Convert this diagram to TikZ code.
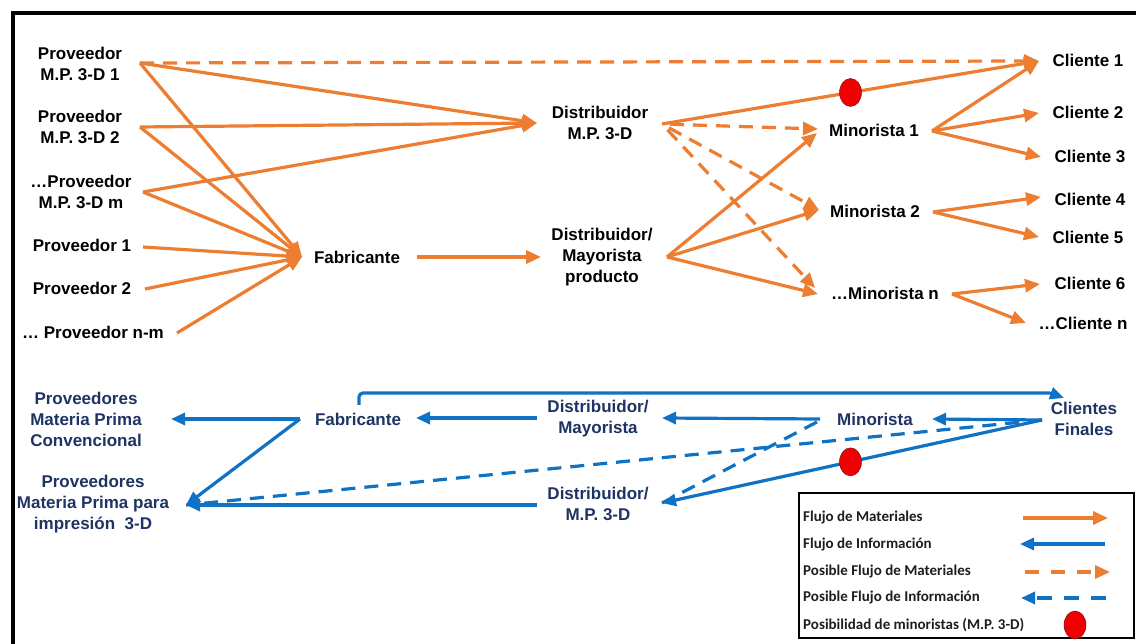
\documentclass[tikz,border=0pt]{standalone}
\usepackage{fontspec}
\setmainfont{Liberation Sans}
\newfontfamily\legfont{Carlito}
\usetikzlibrary{arrows.meta,shapes.geometric}
\definecolor{matorange}{RGB}{237,125,49}
\definecolor{infblue}{RGB}{16,114,196}
\definecolor{navytext}{RGB}{31,52,100}
\definecolor{legtext}{RGB}{30,30,30}
\definecolor{dotred}{RGB}{240,0,0}
\tikzset{
  lbl/.style={font=\fontsize{17}{21}\selectfont\bfseries, align=center, inner sep=0pt, text=black},
  blbl/.style={lbl, text=navytext},
  leg/.style={font=\legfont\fontsize{15}{17}\selectfont\bfseries, anchor=west, inner sep=0pt, text=legtext},
  mat/.style={draw=matorange, line width=3.2pt, -{Triangle[length=15pt,width=13pt,fill=matorange]}},
  pmat/.style={mat, dash pattern=on 14pt off 9pt},
  inf/.style={draw=infblue, line width=3.2pt, -{Triangle[length=14pt,width=12pt,fill=infblue]}},
  pinf/.style={inf, dash pattern=on 14pt off 9pt},
  infline/.style={draw=infblue, line width=3.2pt},
  pinfline/.style={infline, dash pattern=on 14pt off 9pt},
  reddot/.style={ellipse, fill=dotred, draw={rgb,255:red,120;green,20;blue,20}, line width=0.5pt,
                 minimum width=22pt, minimum height=28pt, inner sep=0pt}
}
\begin{document}
\begin{tikzpicture}[x=1pt,y=-1pt]
\useasboundingbox (0,0) rectangle (1136,644);
\fill[white] (0,0) rectangle (1136,644);

% outer frame
\draw[line width=3.8pt] (13,660) -- (13,13) -- (1150,13);

% ---------------- material flow ----------------
\node[lbl] (p1) at (80,64) {Proveedor\\M.P. 3-D 1};
\node[lbl] (p2) at (80,127) {Proveedor\\M.P. 3-D 2};
\node[lbl] (pm) at (81,192) {…Proveedor\\M.P. 3-D m};
\node[lbl] (q1) at (82,245) {Proveedor 1};
\node[lbl] (q2) at (82,288) {Proveedor 2};
\node[lbl] (qn) at (93,332) {… Proveedor n-m};
\node[lbl] (fab) at (357,257) {Fabricante};
\node[lbl] (dmp) at (600,123) {Distribuidor\\M.P. 3-D};
\node[lbl] (dmy) at (602,257) {Distribuidor/\\Mayorista\\producto};
\node[lbl] (m1) at (874,130) {Minorista 1};
\node[lbl] (m2) at (875,211) {Minorista 2};
\node[lbl] (mn) at (885,293) {…Minorista n};
\node[lbl] (c1) at (1088,60) {Cliente 1};
\node[lbl] (c2) at (1088,112) {Cliente 2};
\node[lbl] (c3) at (1090,156) {Cliente 3};
\node[lbl] (c4) at (1090,199) {Cliente 4};
\node[lbl] (c5) at (1088,237) {Cliente 5};
\node[lbl] (c6) at (1090,283) {Cliente 6};
\node[lbl] (cn) at (1083,323) {…Cliente n};

% connection points
\coordinate (p1o) at (140,63);
\coordinate (p2o) at (140,127);
\coordinate (pmo) at (143,192);
\coordinate (q1o) at (143,247);
\coordinate (q2o) at (145,289);
\coordinate (qno) at (177,333);
\coordinate (fabi) at (302,257);
\coordinate (fabo) at (417,257);
\coordinate (dmpi) at (537,123);
\coordinate (dmpo) at (662,124);
\coordinate (dmyi) at (541,257);
\coordinate (dmyo) at (667,257);
\coordinate (m1i) at (818,129);
\coordinate (m1s) at (817,133);
\coordinate (m1o) at (932,131);
\coordinate (m2i) at (819,210);
\coordinate (m2o) at (933,212);
\coordinate (mni) at (815,288);
\coordinate (mns) at (818,294);
\coordinate (mno) at (952,294);
\coordinate (c1i) at (1039,61);
\coordinate (c2i) at (1039,113);
\coordinate (c3i) at (1041,157);
\coordinate (c4i) at (1041,197);
\coordinate (c5i) at (1039,237);
\coordinate (c6i) at (1040,284);
\coordinate (cni) at (1026,323);

\draw[pmat] (p1o) -- (c1i);
\draw[mat] (p1o) -- (dmpi);
\draw[mat] (p1o) -- (fabi);
\draw[mat] (p2o) -- (dmpi);
\draw[mat] (p2o) -- (fabi);
\draw[mat] (pmo) -- (dmpi);
\draw[mat] (pmo) -- (fabi);
\draw[mat] (q1o) -- (fabi);
\draw[mat] (q2o) -- (fabi);
\draw[mat] (qno) -- (fabi);
\draw[mat] (fabo) -- (dmyi);

\draw[mat] (dmpo) -- (c1i) node[pos=0.5, reddot] (r1) {};
\draw[pmat, shorten <=8pt] (dmpo) -- (m1i);
\draw[pmat, shorten <=8pt] (dmpo) -- (m2i);
\draw[pmat, shorten <=8pt] (dmpo) -- (mni);
\draw[mat] (dmyo) -- (m1s);
\draw[mat] (dmyo) -- (m2i);
\draw[mat] (dmyo) -- (mns);

\draw[mat] (m1o) -- (c1i);
\draw[mat] (m1o) -- (c2i);
\draw[mat] (m1o) -- (c3i);
\draw[mat] (m2o) -- (c4i);
\draw[mat] (m2o) -- (c5i);
\draw[mat] (mno) -- (c6i);
\draw[mat] (mno) -- (cni);

% ---------------- information flow ----------------
\node[blbl] (convB) at (86,419) {Proveedores\\Materia Prima\\Convencional};
\node[blbl] (p3dB) at (93,504) {Proveedores\\Materia Prima para\\impresión\ \ 3-D};
\node[blbl] (fabB) at (358,419) {Fabricante};
\node[blbl] (dmyB) at (598,419) {Distribuidor/\\Mayorista};
\node[blbl] (minB) at (875,419) {Minorista};
\node[blbl] (cliB) at (1084,419) {Clientes\\Finales};
\node[blbl] (dmpB) at (598,504) {Distribuidor/\\M.P. 3-D};

\coordinate (fabBo) at (300,419);
\coordinate (fabBt) at (359,405);
\coordinate (convBi) at (171,419);
\coordinate (p3dBi) at (186,505);
\coordinate (fabBi) at (416,418);
\coordinate (dmyBo) at (537,418);
\coordinate (dmyBi) at (662,418);
\coordinate (minBo) at (820,419);
\coordinate (minBd) at (817,422);
\coordinate (minBi) at (932,419);
\coordinate (cliBo) at (1042,420);
\coordinate (cliBt) at (1064,398);
\coordinate (dmpBi) at (662,503);
\coordinate (dmpBo) at (537,505);

\draw[inf] (fabBo) -- (convBi);
\draw[inf] (fabBo) -- (p3dBi);
\draw[inf] (dmyBo) -- (fabBi);
\draw[inf] (minBo) -- (dmyBi);
\draw[inf] (cliBo) -- (minBi);
\draw[inf] (dmpBo) -- (p3dBi);
\draw[pinfline] (cliBo) -- (p3dBi);
\draw[pinfline] (minBd) -- (dmpBi);
\draw[inf] (cliBo) -- (dmpBi) node[pos=0.504, reddot] (r2) {};
\draw[inf, rounded corners=4pt] (fabBt) |- (1045,393) to[out=0,in=160] (cliBt);

% ---------------- legend ----------------
\draw[line width=1.2pt] (799,493) rectangle (1134,638);
\node[leg] (l1) at (803,518) {Flujo de Materiales};
\node[leg] (l2) at (803,545) {Flujo de Información};
\node[leg] (l3) at (803,572) {Posible Flujo de Materiales};
\node[leg] (l4) at (803,598) {Posible Flujo de Información};
\node[leg] (l5) at (803,625) {Posibilidad de minoristas (M.P. 3-D)};
\coordinate (l1a) at (1023,518);
\coordinate (l1b) at (1108,518);
\coordinate (l2a) at (1105,544);
\coordinate (l2b) at (1020,544);
\coordinate (l3a) at (1025,572);
\coordinate (l3b) at (1110,572);
\coordinate (l4a) at (1106,598);
\coordinate (l4b) at (1021,598);
\draw[mat] (l1a) -- (l1b);
\draw[inf] (l2a) -- (l2b);
\draw[pmat, dash pattern=on 14pt off 12pt] (l3a) -- (l3b);
\draw[pinf, dash pattern=on 15pt off 12pt] (l4a) -- (l4b);
\node[reddot] (l5d) at (1075,625) {};
\end{tikzpicture}
\end{document}
